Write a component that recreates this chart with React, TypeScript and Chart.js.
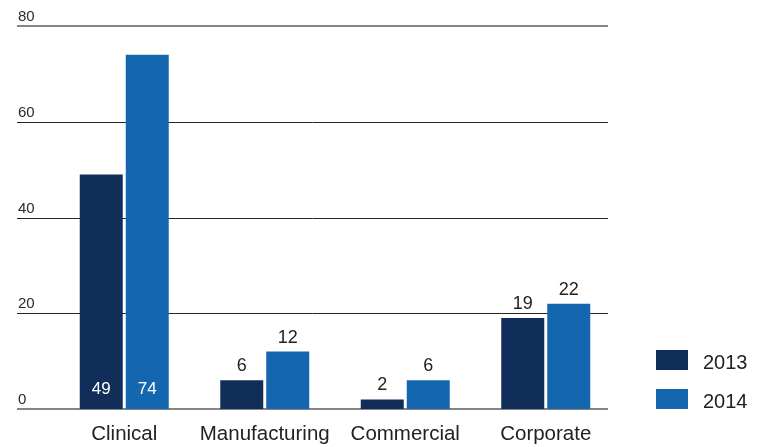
import React, { useEffect, useRef } from "react";
import { Chart, registerables } from "chart.js";

Chart.register(...registerables);

const categories = ["Clinical", "Manufacturing", "Commercial", "Corporate"];
const seriesNames = ["2013", "2014"];
const values2013 = [49, 6, 2, 19];
const values2014 = [74, 12, 6, 22];
const seriesColors = ["#112e5b", "#1467af"];
const yMin = 0;
const yMax = 80;
const yStep = 20;
const insideLabelThreshold = 40;

const FONT = "'Liberation Sans', Arial, Helvetica, sans-serif";

const gridPlugin = {
  id: "customGrid",
  beforeDatasetsDraw(chart: any) {
    const { ctx } = chart;
    const y = chart.scales.y;
    ctx.save();
    y.ticks.forEach((t: any) => {
      const py = y.getPixelForValue(t.value);
      const edge = t.value === y.min || t.value === y.max;
      ctx.strokeStyle = edge ? "#858585" : "#262626";
      ctx.lineWidth = edge ? 2 : 1;
      const yy = edge ? Math.round(py) : Math.round(py) + 0.5;
      ctx.beginPath();
      ctx.moveTo(17, yy);
      ctx.lineTo(608, yy);
      ctx.stroke();
      ctx.fillStyle = "#2a2a2a";
      ctx.font = `15px ${FONT}`;
      ctx.textBaseline = "alphabetic";
      ctx.textAlign = "left";
      ctx.fillText(String(t.value), 18, py - 5);
    });
    ctx.restore();
  },
};

const labelPlugin = {
  id: "barLabels",
  afterDatasetsDraw(chart: any) {
    const { ctx } = chart;
    ctx.save();
    ctx.textAlign = "center";
    ctx.textBaseline = "alphabetic";
    chart.data.datasets.forEach((ds: any, di: number) => {
      const meta = chart.getDatasetMeta(di);
      meta.data.forEach((bar: any, i: number) => {
        const v = ds.data[i];
        if (v >= insideLabelThreshold) {
          ctx.fillStyle = "#ffffff";
          ctx.font = `17px ${FONT}`;
          ctx.fillText(String(v), bar.x, bar.base - 15);
        } else {
          ctx.fillStyle = "#222222";
          ctx.font = `18px ${FONT}`;
          ctx.fillText(String(v), bar.x, bar.y - 9);
        }
      });
    });
    ctx.restore();
  },
};

const legendPlugin = {
  id: "customLegend",
  afterDraw(chart: any) {
    const { ctx } = chart;
    ctx.save();
    chart.data.datasets.forEach((ds: any, i: number) => {
      const top = 350 + i * 39;
      ctx.fillStyle = ds.backgroundColor;
      ctx.fillRect(656, top, 32, 20);
      ctx.fillStyle = "#222222";
      ctx.font = `20px ${FONT}`;
      ctx.textAlign = "left";
      ctx.textBaseline = "alphabetic";
      ctx.fillText(ds.label, 703, top + 19);
    });
    ctx.restore();
  },
};

export default function App() {
  const canvasRef = useRef<HTMLCanvasElement | null>(null);

  useEffect(() => {
    if (!canvasRef.current) return;
    const chart = new Chart(canvasRef.current, {
      type: "bar",
      data: {
        labels: categories,
        datasets: [
          {
            label: seriesNames[0],
            data: values2013,
            backgroundColor: seriesColors[0],
            categoryPercentage: 92 / 140.5,
            barPercentage: 43 / 46,
          },
          {
            label: seriesNames[1],
            data: values2014,
            backgroundColor: seriesColors[1],
            categoryPercentage: 92 / 140.5,
            barPercentage: 43 / 46,
          },
        ],
      },
      options: {
        responsive: false,
        animation: false,
        devicePixelRatio: 1,
        layout: { padding: { left: 54, right: 147, top: 26, bottom: 0 } },
        plugins: {
          legend: { display: false },
          tooltip: { enabled: false },
        },
        scales: {
          x: {
            grid: { display: false, drawTicks: false },
            border: { display: false },
            ticks: {
              color: "#222222",
              padding: 13,
              font: { family: FONT, size: 20.5 },
            },
            afterFit: (scale: any) => {
              scale.height = 38;
            },
          },
          y: {
            min: yMin,
            max: yMax,
            grid: { display: false, drawTicks: false },
            border: { display: false },
            ticks: { display: false, stepSize: yStep },
            afterFit: (scale: any) => {
              scale.width = 0;
            },
          },
        },
      },
      plugins: [gridPlugin, labelPlugin, legendPlugin],
    });
    return () => chart.destroy();
  }, []);

  return (
    <div style={{ position: "absolute", left: 0, top: 0, width: 763, height: 447 }}>
      <canvas ref={canvasRef} width={763} height={447} style={{ width: 763, height: 447, display: "block" }} />
    </div>
  );
}
